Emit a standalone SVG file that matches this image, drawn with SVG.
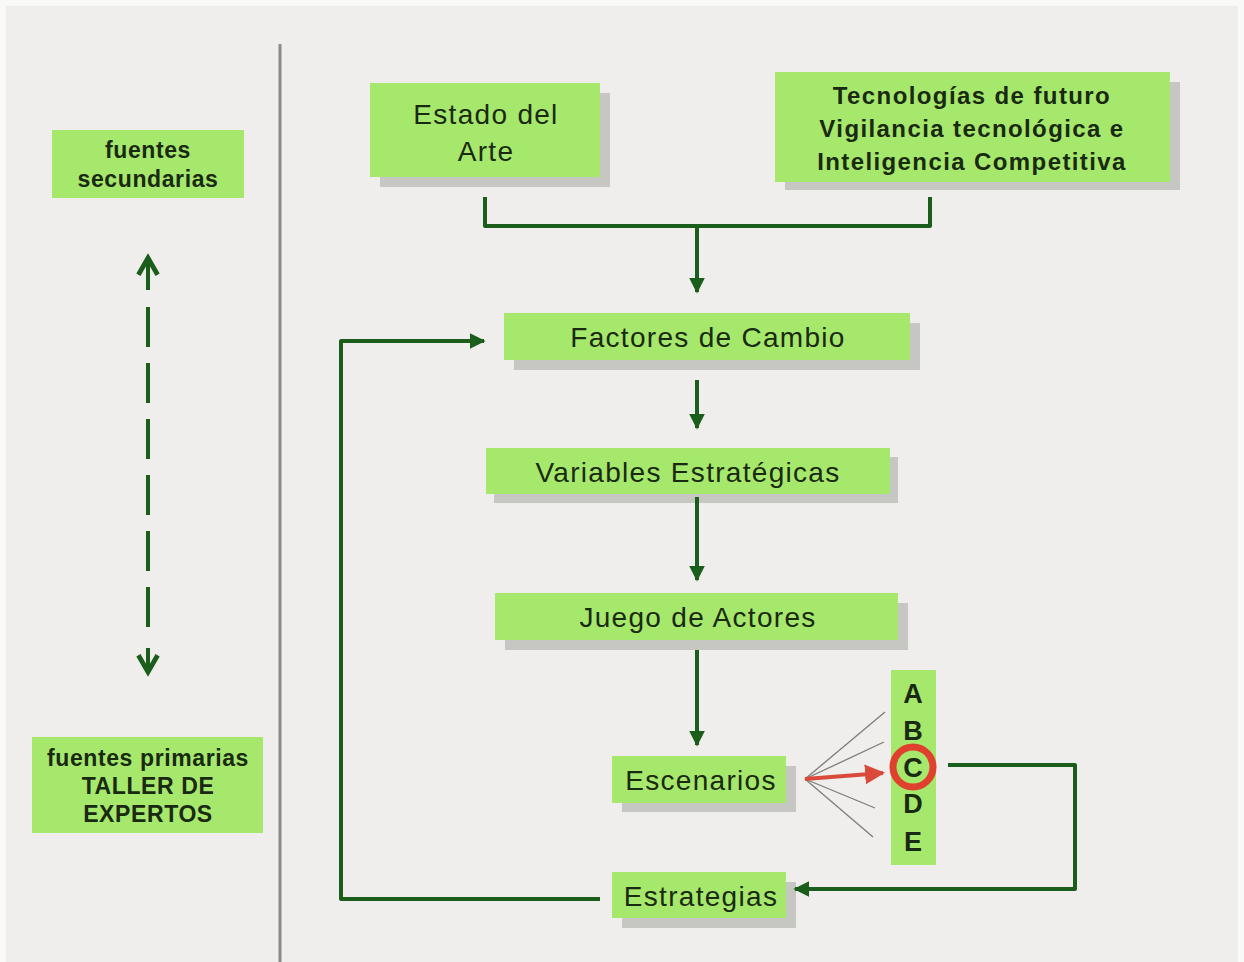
<svg xmlns="http://www.w3.org/2000/svg" width="1244" height="962" viewBox="0 0 1244 962">
  <defs>
    <style>
      .box { fill: #a6e86c; }
      .shadow { fill: #c6c6c2; }
      .lbl { font-family: "Liberation Sans", Arial, sans-serif; fill: #1a2a12; text-anchor: middle; }
      .reg { font-size: 28px; letter-spacing: 1.3px; }
      .bold { font-size: 23px; font-weight: bold; letter-spacing: 0.6px; }
      .bold-lg { font-size: 24px; font-weight: bold; letter-spacing: 1.4px; }
      .flow { fill: none; stroke: #1b5e1b; stroke-width: 4; stroke-linejoin: round; }
      .fan { stroke: #7d7d78; stroke-width: 1.3; }
    </style>
    <marker id="arr" viewBox="0 0 10 10" refX="9" refY="5" markerWidth="4" markerHeight="4" markerUnits="strokeWidth" orient="auto">
      <path d="M0,0 L10,5 L0,10 Z" fill="#1b5e1b"/>
    </marker>
    <marker id="open" viewBox="0 0 10 10" refX="8" refY="5" markerWidth="6" markerHeight="6" markerUnits="strokeWidth" orient="auto">
      <path d="M1,1 L8,5 L1,9" fill="none" stroke="#1b5e1b" stroke-width="2"/>
    </marker>
    <marker id="redarr" viewBox="0 0 10 10" refX="9" refY="5" markerWidth="5" markerHeight="5" markerUnits="strokeWidth" orient="auto">
      <path d="M0,0 L10,5 L0,10 Z" fill="#d94a3a"/>
    </marker>
  </defs>

  <rect x="0" y="0" width="1244" height="962" fill="#f9f9f8"/>
  <rect x="6" y="6" width="1232" height="956" fill="#efeeec"/>

  <!-- divider -->
  <line x1="280" y1="44" x2="280" y2="962" stroke="#8a8a86" stroke-width="3"/>

  <!-- left column -->
  <g id="fuentes-secundarias">
    <rect class="box" x="52" y="130" width="192" height="68"/>
    <text class="lbl bold" x="148" y="158">fuentes</text>
    <text class="lbl bold" x="148" y="187">secundarias</text>
  </g>
  <g id="fuentes-primarias">
    <rect class="box" x="32" y="737" width="231" height="96"/>
    <text class="lbl bold" x="148" y="766">fuentes primarias</text>
    <text class="lbl bold" x="148" y="794">TALLER DE</text>
    <text class="lbl bold" x="148" y="822">EXPERTOS</text>
  </g>

  <!-- main nodes -->
  <g id="estado-del-arte">
    <rect class="shadow" x="380" y="93" width="230" height="94"/>
    <rect class="box" x="370" y="83" width="230" height="94"/>
    <text class="lbl reg" x="486" y="124">Estado del</text>
    <text class="lbl reg" x="486" y="161">Arte</text>
  </g>
  <g id="tecnologias">
    <rect class="shadow" x="785" y="82" width="395" height="108"/>
    <rect class="box" x="775" y="72" width="395" height="110"/>
    <text class="lbl bold-lg" x="972" y="104">Tecnologías de futuro</text>
    <text class="lbl bold-lg" x="972" y="137">Vigilancia tecnológica e</text>
    <text class="lbl bold-lg" x="972" y="170">Inteligencia Competitiva</text>
  </g>
  <g id="factores">
    <rect class="shadow" x="514" y="323" width="406" height="47"/>
    <rect class="box" x="504" y="313" width="406" height="47"/>
    <text class="lbl reg" x="708" y="347">Factores de Cambio</text>
  </g>
  <g id="variables">
    <rect class="shadow" x="494" y="457" width="404" height="46"/>
    <rect class="box" x="486" y="448" width="404" height="46"/>
    <text class="lbl reg" x="688" y="482">Variables Estratégicas</text>
  </g>
  <g id="juego-actores">
    <rect class="shadow" x="505" y="603" width="403" height="47"/>
    <rect class="box" x="495" y="593" width="403" height="47"/>
    <text class="lbl reg" x="698" y="627">Juego de Actores</text>
  </g>
  <g id="escenarios">
    <rect class="shadow" x="622" y="766" width="174" height="46"/>
    <rect class="box" x="612" y="756" width="174" height="47"/>
    <text class="lbl reg" x="701" y="790">Escenarios</text>
  </g>
  <g id="estrategias">
    <rect class="shadow" x="622" y="882" width="174" height="46"/>
    <rect class="box" x="612" y="872" width="174" height="46"/>
    <text class="lbl reg" x="701" y="906">Estrategias</text>
  </g>
  <g id="opciones">
    <rect class="box" x="891" y="670" width="45" height="195"/>
    <text class="lbl" x="913" y="703" font-size="27" font-weight="bold">A</text>
    <text class="lbl" x="913" y="740" font-size="27" font-weight="bold">B</text>
    <text class="lbl" x="913" y="777" font-size="27" font-weight="bold">C</text>
    <text class="lbl" x="913" y="813" font-size="27" font-weight="bold">D</text>
    <text class="lbl" x="913" y="851" font-size="27" font-weight="bold">E</text>
    <circle cx="913" cy="767" r="20" fill="none" stroke="#e0402e" stroke-width="7"/>
  </g>

  <!-- connectors -->
  <g id="connectors">
    <path class="flow" d="M148,290 L148,258" marker-end="url(#open)"/>
    <line x1="148" y1="307" x2="148" y2="640" stroke="#1b5e1b" stroke-width="4" stroke-dasharray="40 16"/>
    <path class="flow" d="M148,648 L148,672" marker-end="url(#open)"/>

    <path class="flow" d="M485,197 L485,226 L930,226 L930,197"/>
    <path class="flow" d="M697,226 L697,292" marker-end="url(#arr)"/>
    <path class="flow" d="M697,380 L697,428" marker-end="url(#arr)"/>
    <path class="flow" d="M697,497 L697,580" marker-end="url(#arr)"/>
    <path class="flow" d="M697,650 L697,745" marker-end="url(#arr)"/>

    <line class="fan" x1="805" y1="779" x2="885" y2="712"/>
    <line class="fan" x1="805" y1="779" x2="884" y2="742"/>
    <line class="fan" x1="805" y1="779" x2="875" y2="808"/>
    <line class="fan" x1="805" y1="779" x2="873" y2="837"/>
    <path d="M805,779 L883,773" stroke="#d94a3a" stroke-width="4" fill="none" marker-end="url(#redarr)"/>

    <path class="flow" d="M948,765 L1075,765 L1075,889 L795,889" marker-end="url(#arr)"/>
    <path class="flow" d="M600,899 L341,899 L341,341 L484,341" marker-end="url(#arr)"/>
  </g>
</svg>
